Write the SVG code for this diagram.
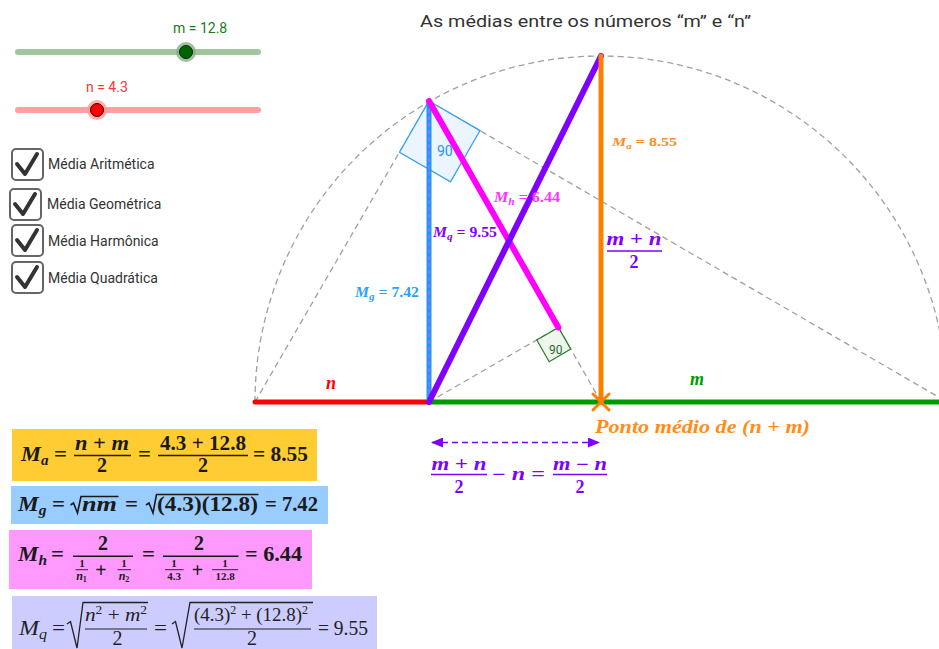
<svg xmlns="http://www.w3.org/2000/svg" width="939" height="649" viewBox="0 0 939 649">
<style>
.sans{font-family:Roboto,"Liberation Sans",sans-serif}
.cb{font-family:Roboto,"Liberation Sans",sans-serif;font-size:14px;fill:#333}
.box{fill:none;stroke:#666;stroke-width:2}
.chk{fill:none;stroke:#333;stroke-width:4;stroke-linecap:round;stroke-linejoin:round}
.m{font-family:"Liberation Serif","Times New Roman",serif;font-weight:bold}
.mr{font-family:"Liberation Serif","Times New Roman",serif;font-weight:normal}
.i{font-style:italic}
.dash{fill:none;stroke:#a0a0a0;stroke-width:1.3;stroke-dasharray:6 4}
.bar{stroke-width:1.4}
</style>
<defs>
<marker id="ah" viewBox="0 0 12 10" refX="11" refY="5" markerWidth="12" markerHeight="10" markerUnits="userSpaceOnUse" orient="auto-start-reverse">
<path d="M0,0 L12,5 L0,10 z" fill="#8000ff"/>
</marker>
</defs>
<rect width="939" height="649" fill="#fff"/>

<text x="420" y="27" class="sans" font-size="17" fill="#333" textLength="331" lengthAdjust="spacingAndGlyphs">As médias entre os números “m” e “n”</text>

<g id="slider-m">
<line x1="18" y1="52" x2="258" y2="52" stroke="#9fc69f" stroke-width="6" stroke-linecap="round"/>
<circle cx="186" cy="52" r="10" fill="#7fb37f" opacity="0.8"/>
<circle cx="186" cy="52" r="6.5" fill="#006400" stroke="#1a1a1a" stroke-width="1"/>
<text x="173" y="33" class="sans" font-size="14" fill="#1b7a1b">m = 12.8</text>
</g>
<g id="slider-n">
<line x1="18" y1="110" x2="258" y2="110" stroke="#ff9f9f" stroke-width="6" stroke-linecap="round"/>
<circle cx="97" cy="110" r="10" fill="#ff9999" opacity="0.8"/>
<circle cx="97" cy="110" r="6.5" fill="#ff0000" stroke="#3a0000" stroke-width="1"/>
<text x="86" y="92" class="sans" font-size="14" fill="#ff3333">n = 4.3</text>
</g>

<g id="cb-aritmetica">
<rect x="12" y="149" width="31" height="31" rx="4" class="box"/>
<polyline points="17,164 25,174 37,154" class="chk"/>
<text x="48" y="169" class="cb">Média Aritmética</text>
</g>
<g id="cb-geometrica">
<rect x="10" y="189" width="31" height="31" rx="4" class="box"/>
<polyline points="15,204 23,214 35,194" class="chk"/>
<text x="47" y="209" class="cb">Média Geométrica</text>
</g>
<g id="cb-harmonica">
<rect x="12" y="225" width="31" height="31" rx="4" class="box"/>
<polyline points="17,240 25,250 37,230" class="chk"/>
<text x="48" y="246" class="cb">Média Harmônica</text>
</g>
<g id="cb-quadratica">
<rect x="12" y="262" width="31" height="31" rx="4" class="box"/>
<polyline points="17,277 25,287 37,267" class="chk"/>
<text x="48" y="283" class="cb">Média Quadrática</text>
</g>

<g id="construction">
<path d="M255,402 A346,346 0 0 1 947,402" class="dash"/>
<line x1="255" y1="402" x2="429" y2="101" class="dash"/>
<line x1="429" y1="101" x2="947" y2="402" class="dash"/>
<line x1="429" y1="402" x2="558.4" y2="327.4" class="dash"/>
<line x1="558.4" y1="327.4" x2="601" y2="402" class="dash"/>
</g>

<g id="angle-G">
<polygon points="429,101 480,130.6 450.5,181.8 399.5,152.2" fill="#eaf5ff" stroke="#3aa0f0" stroke-width="1.3"/>
<text x="437" y="156" class="sans" font-size="14" fill="#2196f3">90°</text>
</g>
<g id="angle-P">
<polygon points="558.4,327.4 536.8,340 549.2,361.7 570.8,349.1" fill="#eef6ee" stroke="#2a7a2a" stroke-width="1.2"/>
<text x="549" y="354" class="sans" font-size="12" fill="#2a6a2a">90</text>
</g>

<g id="segments">
<line id="seg-n" x1="255" y1="402" x2="429" y2="402" stroke="#ff0000" stroke-width="5" stroke-linecap="round"/>
<line id="seg-m" x1="429" y1="402" x2="947" y2="402" stroke="#009900" stroke-width="5" stroke-linecap="round"/>
<line id="seg-Mg" x1="429" y1="402" x2="429" y2="101" stroke="#2196f3" stroke-width="5"/>
<line x1="429" y1="400" x2="429" y2="103" stroke="#a070ff" stroke-width="1.4" stroke-dasharray="4 3"/>
<line id="seg-Mh" x1="429" y1="101" x2="558.4" y2="327.4" stroke="#ff00ff" stroke-width="6" stroke-linecap="round"/>
<line id="seg-Mq" x1="429" y1="402" x2="601" y2="56" stroke="#7f00ff" stroke-width="6" stroke-linecap="round"/>
<line id="seg-Ma" x1="601" y1="56" x2="601" y2="402" stroke="#ff8000" stroke-width="5" stroke-linecap="round"/>
<g id="midpoint" stroke="#ff8000" stroke-width="3" stroke-linecap="round">
<line x1="593" y1="394" x2="609" y2="410"/>
<line x1="593" y1="410" x2="609" y2="394"/>
</g>
</g>

<g id="labels">
<text x="355" y="297" class="m" font-size="14" fill="#2aa0ff" textLength="64" lengthAdjust="spacingAndGlyphs"><tspan class="i">M</tspan><tspan class="i" font-size="10" dy="3">g</tspan><tspan dy="-3"> = 7.42</tspan></text>
<text x="433" y="237" class="m" font-size="14" fill="#8000ff" textLength="64" lengthAdjust="spacingAndGlyphs"><tspan class="i">M</tspan><tspan class="i" font-size="10" dy="3">q</tspan><tspan dy="-3"> = 9.55</tspan></text>
<text x="494" y="202" class="m" font-size="14" fill="#ff33ff" textLength="66" lengthAdjust="spacingAndGlyphs"><tspan class="i">M</tspan><tspan class="i" font-size="10" dy="3">h</tspan><tspan dy="-3"> = 6.44</tspan></text>
<text x="612" y="146" class="m" font-size="13" fill="#ff8c1a" textLength="65" lengthAdjust="spacingAndGlyphs"><tspan class="i">M</tspan><tspan class="i" font-size="9" dy="3">a</tspan><tspan dy="-3"> = 8.55</tspan></text>
<g id="label-half" class="m" font-size="18" fill="#8000ff">
<text x="634" y="245" text-anchor="middle" textLength="55" lengthAdjust="spacingAndGlyphs"><tspan class="i">m</tspan> + <tspan class="i">n</tspan></text>
<line x1="607" y1="251" x2="662" y2="251" stroke="#8000ff" class="bar"/>
<text x="634" y="268" text-anchor="middle">2</text>
</g>
<text x="326" y="389" class="m i" font-size="18" fill="#ff0000">n</text>
<text x="690" y="385" class="m i" font-size="18" fill="#009900">m</text>
<text x="595" y="433" class="m i" font-size="18" fill="#ff8c1a" textLength="215" lengthAdjust="spacingAndGlyphs">Ponto médio de (n + m)</text>
</g>

<g id="difference">
<line x1="432" y1="442.5" x2="599" y2="442.5" stroke="#8000ff" stroke-width="1.5" stroke-dasharray="6 4" marker-start="url(#ah)" marker-end="url(#ah)"/>
<g class="m" font-size="18" fill="#8000ff">
<text x="459" y="470" text-anchor="middle" textLength="55" lengthAdjust="spacingAndGlyphs"><tspan class="i">m</tspan> + <tspan class="i">n</tspan></text>
<line x1="431" y1="474.5" x2="487" y2="474.5" stroke="#8000ff" class="bar"/>
<text x="459" y="493" text-anchor="middle">2</text>
<text x="492" y="480" textLength="53" lengthAdjust="spacingAndGlyphs">− <tspan class="i">n</tspan> =</text>
<text x="580" y="470" text-anchor="middle" textLength="54" lengthAdjust="spacingAndGlyphs"><tspan class="i">m</tspan> − <tspan class="i">n</tspan></text>
<line x1="553" y1="474.5" x2="607" y2="474.5" stroke="#8000ff" class="bar"/>
<text x="580" y="493" text-anchor="middle">2</text>
</g>
</g>

<g id="formula-Ma">
<rect x="12" y="429" width="305" height="52" fill="#ffcc33"/>
<g class="m" font-size="21" fill="#1a1a1a">
<text x="21" y="461" textLength="27.5" lengthAdjust="spacingAndGlyphs"><tspan class="i">M</tspan><tspan class="i" font-size="14" dy="4">a</tspan></text>
<text x="54" y="461" textLength="13" lengthAdjust="spacingAndGlyphs">=</text>
<text x="102" y="450" text-anchor="middle" font-size="20" textLength="54" lengthAdjust="spacingAndGlyphs"><tspan class="i">n</tspan> + <tspan class="i">m</tspan></text>
<line x1="74" y1="455.5" x2="131" y2="455.5" stroke="#1a1a1a" class="bar"/>
<text x="102" y="472" text-anchor="middle" font-size="20">2</text>
<text x="138" y="461" textLength="13" lengthAdjust="spacingAndGlyphs">=</text>
<text x="203" y="450" text-anchor="middle" font-size="20" textLength="86" lengthAdjust="spacingAndGlyphs">4.3 + 12.8</text>
<line x1="158" y1="455.5" x2="248" y2="455.5" stroke="#1a1a1a" class="bar"/>
<text x="203" y="472" text-anchor="middle" font-size="20">2</text>
<text x="253" y="461" textLength="55" lengthAdjust="spacingAndGlyphs">= 8.55</text>
</g>
</g>

<g id="formula-Mg">
<rect x="11" y="486" width="317" height="38" fill="#99ccff"/>
<g class="m" font-size="21" fill="#1a1a1a">
<text x="18" y="511" textLength="28.5" lengthAdjust="spacingAndGlyphs"><tspan class="i">M</tspan><tspan class="i" font-size="14" dy="4">g</tspan></text>
<text x="52" y="511" textLength="13" lengthAdjust="spacingAndGlyphs">=</text>
<polyline points="70.5,505 73.5,503 77.5,513 81,496.5 118.5,496.5" fill="none" stroke="#1a1a1a" stroke-width="1.6"/>
<text x="82" y="511" class="i" textLength="35" lengthAdjust="spacingAndGlyphs">nm</text>
<text x="125" y="511" textLength="13" lengthAdjust="spacingAndGlyphs">=</text>
<polyline points="146,505 149,503 153,513 156.5,494.5 258.5,494.5" fill="none" stroke="#1a1a1a" stroke-width="1.6"/>
<text x="157" y="511" textLength="101" lengthAdjust="spacingAndGlyphs">(4.3)(12.8)</text>
<text x="265" y="511" textLength="53" lengthAdjust="spacingAndGlyphs">= 7.42</text>
</g>
</g>

<g id="formula-Mh">
<rect x="9" y="530" width="303" height="59" fill="#ff99ff"/>
<g class="m" font-size="21" fill="#1a1a1a">
<text x="18" y="561" textLength="29" lengthAdjust="spacingAndGlyphs"><tspan class="i">M</tspan><tspan class="i" font-size="14" dy="4">h</tspan></text>
<text x="51" y="561" textLength="13" lengthAdjust="spacingAndGlyphs">=</text>
<text x="103" y="549.5" text-anchor="middle" font-size="20">2</text>
<line x1="73" y1="556.3" x2="133" y2="556.3" stroke="#1a1a1a" class="bar"/>
<text x="82" y="566.5" text-anchor="middle" font-size="11">1</text>
<line x1="75.5" y1="569.7" x2="88" y2="569.7" stroke="#1a1a1a" stroke-width="0.9"/>
<text x="81.5" y="580" text-anchor="middle" font-size="12"><tspan class="i">n</tspan><tspan font-size="8" dy="2">1</tspan></text>
<text x="101" y="577" text-anchor="middle" font-size="20">+</text>
<text x="124" y="566.5" text-anchor="middle" font-size="11">1</text>
<line x1="117.5" y1="569.7" x2="131" y2="569.7" stroke="#1a1a1a" stroke-width="0.9"/>
<text x="124" y="580" text-anchor="middle" font-size="12"><tspan class="i">n</tspan><tspan font-size="8" dy="2">2</tspan></text>
<text x="142" y="561" textLength="13" lengthAdjust="spacingAndGlyphs">=</text>
<text x="199" y="549.5" text-anchor="middle" font-size="20">2</text>
<line x1="163" y1="556.3" x2="238.5" y2="556.3" stroke="#1a1a1a" class="bar"/>
<text x="174" y="566.5" text-anchor="middle" font-size="11">1</text>
<line x1="165" y1="569.7" x2="183.5" y2="569.7" stroke="#1a1a1a" stroke-width="0.9"/>
<text x="174" y="580" text-anchor="middle" font-size="11">4.3</text>
<text x="197.5" y="577" text-anchor="middle" font-size="20">+</text>
<text x="225" y="566.5" text-anchor="middle" font-size="11">1</text>
<line x1="212" y1="569.7" x2="238" y2="569.7" stroke="#1a1a1a" stroke-width="0.9"/>
<text x="225" y="580" text-anchor="middle" font-size="11">12.8</text>
<text x="245" y="561" textLength="57" lengthAdjust="spacingAndGlyphs">= 6.44</text>
</g>
</g>

<g id="formula-Mq">
<rect x="12" y="596" width="365" height="53" fill="#ccccff"/>
<g class="mr" font-size="21" fill="#222">
<text x="19" y="635" textLength="28" lengthAdjust="spacingAndGlyphs"><tspan class="i">M</tspan><tspan class="i" font-size="14" dy="4">q</tspan></text>
<text x="52" y="635" textLength="13" lengthAdjust="spacingAndGlyphs">=</text>
<polyline points="67,624 70.5,621.5 77,648 83,602.5 148,602.5" fill="none" stroke="#222" stroke-width="1.3"/>
<text x="116" y="621" text-anchor="middle" font-size="19" textLength="62" lengthAdjust="spacingAndGlyphs"><tspan class="i">n</tspan><tspan font-size="12" dy="-7">2</tspan><tspan dy="7"> + </tspan><tspan class="i">m</tspan><tspan font-size="12" dy="-7">2</tspan></text>
<line x1="85" y1="629" x2="147" y2="629" stroke="#222" stroke-width="1.1"/>
<text x="117.5" y="645" text-anchor="middle" font-size="20">2</text>
<text x="154" y="635" textLength="13" lengthAdjust="spacingAndGlyphs">=</text>
<polyline points="172,624 175.5,621.5 182,648 190,602.5 313,602.5" fill="none" stroke="#222" stroke-width="1.3"/>
<text x="251" y="621" text-anchor="middle" font-size="19" textLength="114" lengthAdjust="spacingAndGlyphs">(4.3)<tspan font-size="12" dy="-7">2</tspan><tspan dy="7"> + (12.8)</tspan><tspan font-size="12" dy="-7">2</tspan></text>
<line x1="194" y1="629" x2="311" y2="629" stroke="#222" stroke-width="1.1"/>
<text x="252" y="645" text-anchor="middle" font-size="20">2</text>
<text x="318" y="635" textLength="50" lengthAdjust="spacingAndGlyphs">= 9.55</text>
</g>
</g>
</svg>
